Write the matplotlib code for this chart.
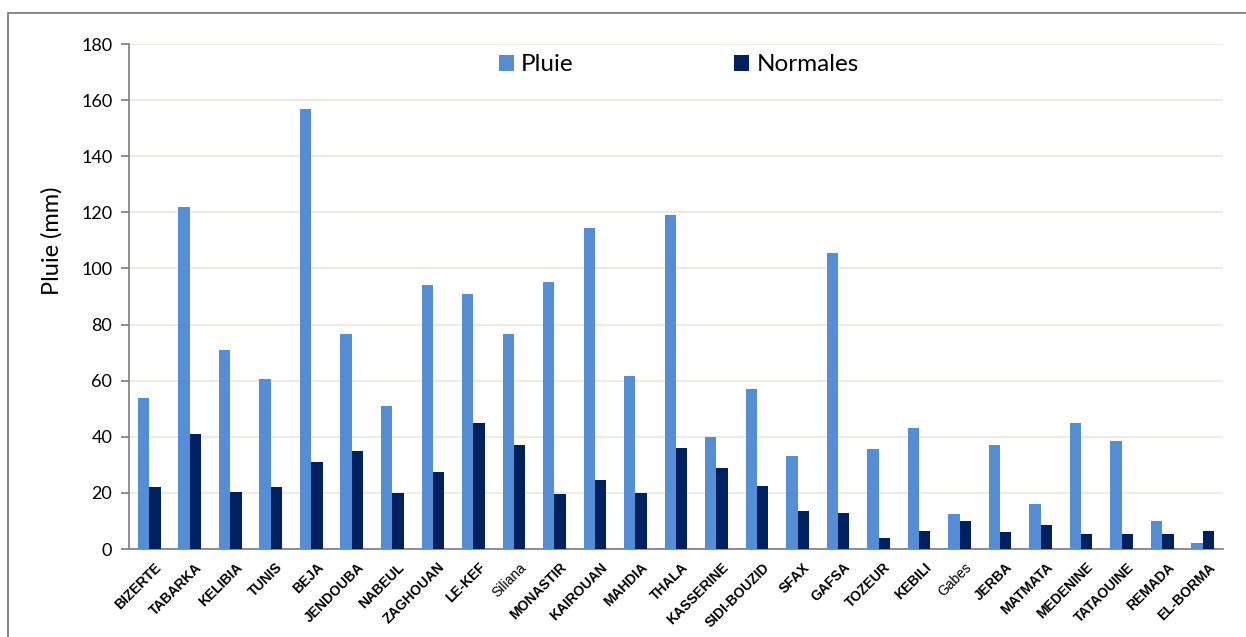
import numpy as np
import matplotlib.pyplot as plt
from matplotlib.patches import Rectangle
from matplotlib.transforms import ScaledTranslation

# données
stations = ['BIZERTE', 'TABARKA', 'KELIBIA', 'TUNIS', 'BEJA', 'JENDOUBA', 'NABEUL',
            'ZAGHOUAN', 'LE-KEF', 'Siliana', 'MONASTIR', 'KAIROUAN', 'MAHDIA', 'THALA',
            'KASSERINE', 'SIDI-BOUZID', 'SFAX', 'GAFSA', 'TOZEUR', 'KEBILI', 'Gabes',
            'JERBA', 'MATMATA', 'MEDENINE', 'TATAOUINE', 'REMADA', 'EL-BORMA']
pluie = [54, 122, 71, 60.5, 157, 76.5, 51, 94, 91, 76.5, 95, 114.5, 61.5, 119,
         40, 57, 33, 105.5, 35.5, 43, 12.5, 37, 16, 45, 38.5, 10, 2]
normales = [22, 41, 20.5, 22, 31, 35, 20, 27.5, 45, 37, 19.5, 24.5, 20, 36,
            29, 22.5, 13.5, 13, 4, 6.5, 10, 6, 8.5, 5.5, 5.5, 5.5, 6.5]

c_pluie = '#558ED5'
c_norm = '#002060'
grid_c = '#EEECE1'
axis_c = '#868686'

fig = plt.figure(figsize=(12.46, 6.37), dpi=100)
ax = fig.add_axes([0.1035, 0.1381, 0.878, 0.7928])

x = np.arange(len(stations))
w = 0.28
ax.bar(x - w / 2, pluie, w, color=c_pluie, label='Pluie', zorder=3)
ax.bar(x + w / 2, normales, w, color=c_norm, label='Normales', zorder=3)

ax.set_xlim(-0.5, len(stations) - 0.5)
ax.set_ylim(0, 180)
ax.set_yticks(range(0, 181, 20))
ax.yaxis.grid(True, color=grid_c, linewidth=1.5, zorder=0)
ax.set_axisbelow(True)

for s in ['top', 'right']:
    ax.spines[s].set_visible(False)
for s in ['left', 'bottom']:
    ax.spines[s].set_color(axis_c)
    ax.spines[s].set_linewidth(1.3)

ax.tick_params(axis='y', colors=axis_c, length=6, width=1.3, labelsize=13,
               labelcolor='black', pad=6)
ax.tick_params(axis='x', length=0, pad=8)
for lab in ax.get_yticklabels():
    lab.set_family('Lato')

ax.set_xticks(x)
ax.set_xticklabels(stations, rotation=45, ha='right', rotation_mode='anchor',
                   fontsize=10, family='Liberation Sans')
decal = ScaledTranslation(5 / 100, 0, fig.dpi_scale_trans)
for lab in ax.get_xticklabels():
    lab.set_transform(lab.get_transform() + decal)
    if lab.get_text() in ('Siliana', 'Gabes'):
        lab.set_fontweight('normal')
    else:
        lab.set_fontweight('bold')

# titre de l'axe y (placé un peu au-dessus du centre, comme sur l'original)
fig.text(52 / 1246, 1 - 241 / 637, 'Pluie (mm)', rotation=90, ha='center', va='center',
         fontsize=17, family='Lato')

ax.legend(loc='center', bbox_to_anchor=(0.5446, 0.898), bbox_transform=fig.transFigure,
          ncol=2, frameon=False, prop={'family': 'Lato', 'size': 17.5},
          handlelength=0.62, handleheight=0.62, handletextpad=0.3, columnspacing=6.6)

# cadre du graphique
fig.patches.append(Rectangle((8 / 1246, -0.05), 1.1, 1 - 13 / 637 + 0.05,
                             transform=fig.transFigure, fill=False,
                             edgecolor='#7F7F7F', linewidth=1.3))

fig.savefig('out.png', dpi=100)
